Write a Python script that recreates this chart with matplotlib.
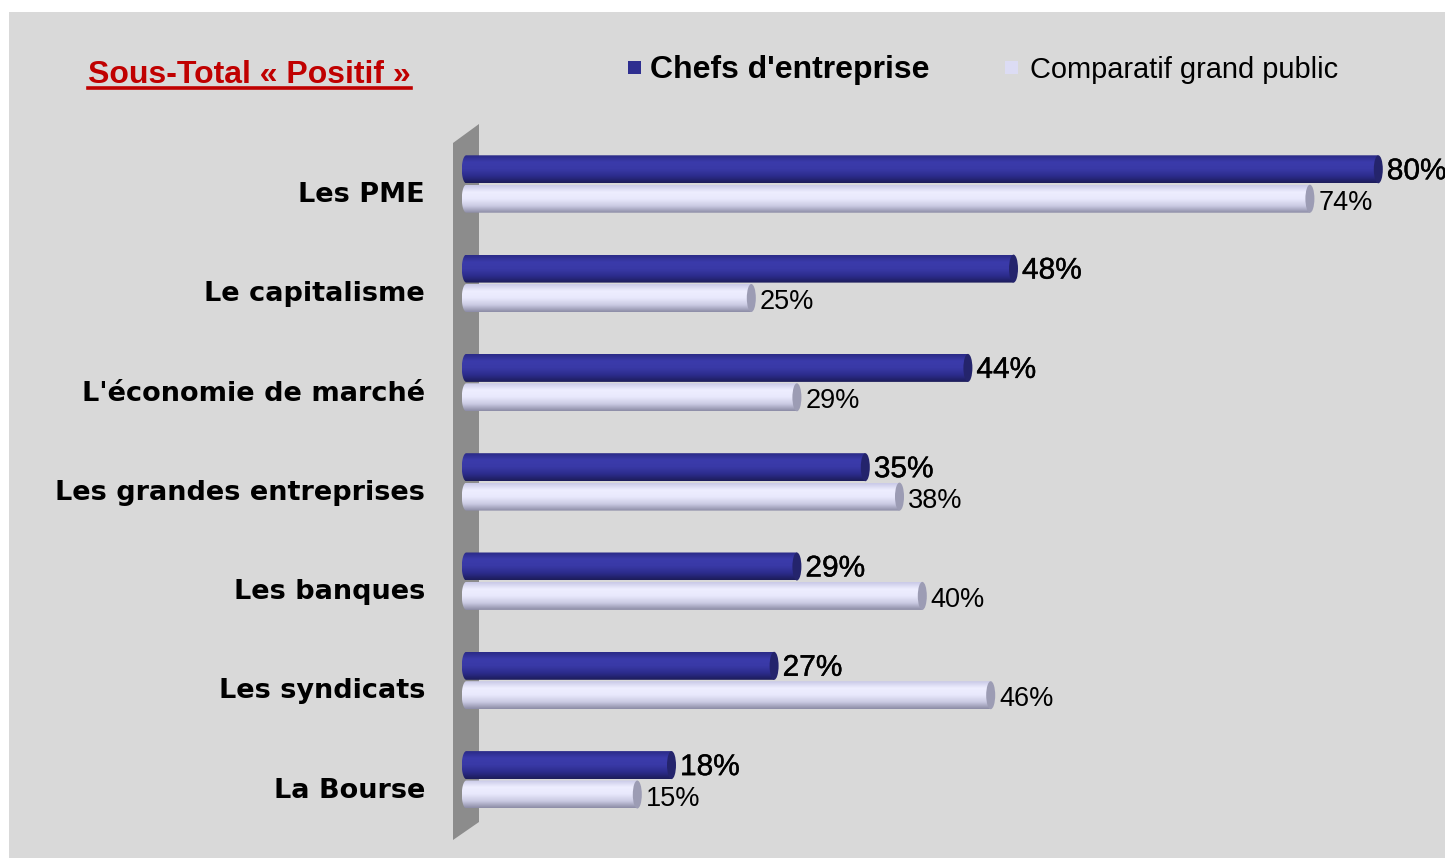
import numpy as np
import matplotlib
matplotlib.use("Agg")
import matplotlib.pyplot as plt
import matplotlib.patheffects as pe
from matplotlib.patches import Rectangle, Polygon, Ellipse, PathPatch
from matplotlib.path import Path
from matplotlib.colors import LinearSegmentedColormap
from matplotlib.lines import Line2D

categories = ["Les PME", "Le capitalisme", "L'économie de marché",
              "Les grandes entreprises", "Les banques", "Les syndicats", "La Bourse"]
chefs = [80, 48, 44, 35, 29, 27, 18]
public = [74, 25, 29, 38, 40, 46, 15]
series_names = ["Chefs d'entreprise", "Comparatif grand public"]
title = "Sous-Total « Positif »"

W, H = 1445, 858
fig = plt.figure(figsize=(W / 100, H / 100), dpi=100)
fig.patch.set_facecolor("white")

def fx(x):
    return x / W

def fy(y):
    return 1 - y / H

# background panel
fig.patches.append(Rectangle((fx(9), 0), 1 - fx(9), fy(12), transform=fig.transFigure,
                             facecolor="#d9d9d9", edgecolor="none", zorder=0))
# 3D wall
wall = [(453, 143), (479, 124), (479, 822), (453, 840)]
fig.patches.append(Polygon([(fx(x), fy(y)) for x, y in wall], closed=True,
                           transform=fig.transFigure, facecolor="#8c8c8c",
                           edgecolor="none", zorder=1))

# axes: value 0 at px 466.3, 11.4 px per unit
x0px, scale = 466.3, 11.4
a = 4.5 / scale          # half-width of cylinder ellipse (data units)
xmin = -2 * a
xmax = 85
top_px, bot_px = 125, 845
gc0, gstep = 184, 99.3
left_px = x0px + xmin * scale
ax = fig.add_axes([fx(left_px), fy(bot_px), (xmax - xmin) * scale / W,
                   (bot_px - top_px) / H])
ax.set_facecolor("none")
ax.set_zorder(2)
for s in ax.spines.values():
    s.set_visible(False)
ax.set_xticks([])
ax.set_yticks([])

ylim = ((bot_px - gc0) / gstep, (top_px - gc0) / gstep)

h = 28 / gstep            # bar thickness
off = 14.7 / gstep

dark_cmap = LinearSegmentedColormap.from_list(
    "d", ["#2a2a86", "#3b3bab", "#3939a6", "#2c2c8c", "#1c1c58"])
light_cmap = LinearSegmentedColormap.from_list(
    "l", ["#c8c8e6", "#eeeeff", "#e8e8fc", "#cacae2", "#8a8aa4"])
grad = np.linspace(0, 1, 256).reshape(-1, 1)

def cylinder(v, yc, cmap, capcolor):
    t = np.linspace(np.pi / 2, 3 * np.pi / 2, 40)
    verts = [(a * np.cos(tt), yc - (h / 2) * np.sin(tt)) for tt in t]
    verts += [(v, yc + h / 2), (v, yc - h / 2), verts[0]]
    codes = [Path.MOVETO] + [Path.LINETO] * (len(verts) - 2) + [Path.CLOSEPOLY]
    patch = PathPatch(Path(verts, codes), transform=ax.transData,
                      facecolor="none", edgecolor="none")
    im = ax.imshow(grad, extent=(-a, v, yc + h / 2, yc - h / 2), aspect="auto",
                   cmap=cmap, origin="upper", interpolation="bicubic", zorder=3)
    im.set_clip_path(patch)
    ax.add_patch(Ellipse((v, yc), 2 * a, h, facecolor=capcolor,
                         edgecolor="none", zorder=4))

semi = [pe.withStroke(linewidth=0.3, foreground="black")]
for i, (c, p) in enumerate(zip(chefs, public)):
    cylinder(p, i + off, light_cmap, "#9c9cb4")
    cylinder(c, i - off, dark_cmap, "#24246c")
    ax.text(c + a + 4 / scale, i - off + 2 / gstep, f"{c}%", ha="left", va="center",
            fontsize=21.5, family="Liberation Sans", color="black", zorder=5,
            path_effects=semi)
    ax.text(p + a + 4 / scale, i + off + 4 / gstep, f"{p}%", ha="left", va="center",
            fontsize=19.5, family="Liberation Sans", color="black", zorder=5)
    ax.text((425 - x0px) / scale, i + 11 / gstep, categories[i], ha="right",
            va="center", fontsize=19.5, fontweight="bold", family="DejaVu Sans",
            color="black", clip_on=False)

ax.set_xlim(xmin, xmax)
ax.set_ylim(*ylim)

# title with underline
tt = fig.text(fx(88), fy(83), title, ha="left", va="baseline", fontsize=23,
              fontweight="bold", family="Liberation Sans", color="#c00000")
fig.canvas.draw()
bb = tt.get_window_extent()
fig.lines.append(Line2D([bb.x0 / W, bb.x1 / W], [fy(88.3), fy(88.3)],
                        transform=fig.transFigure, color="#c00000", linewidth=2.6))

# legend
fig.patches.append(Rectangle((fx(628), fy(74)), 13 / W, 13 / H, transform=fig.transFigure,
                             facecolor="#2e2e90", edgecolor="none"))
fig.text(fx(650), fy(78), series_names[0], ha="left", va="baseline", fontsize=23,
         fontweight="bold", family="Liberation Sans", color="black")
fig.patches.append(Rectangle((fx(1005), fy(74)), 13 / W, 13 / H, transform=fig.transFigure,
                             facecolor="#dcdcf4", edgecolor="none"))
fig.text(fx(1030), fy(78), series_names[1], ha="left", va="baseline", fontsize=20.9,
         family="Liberation Sans", color="black")

fig.savefig("out.png", dpi=100)
